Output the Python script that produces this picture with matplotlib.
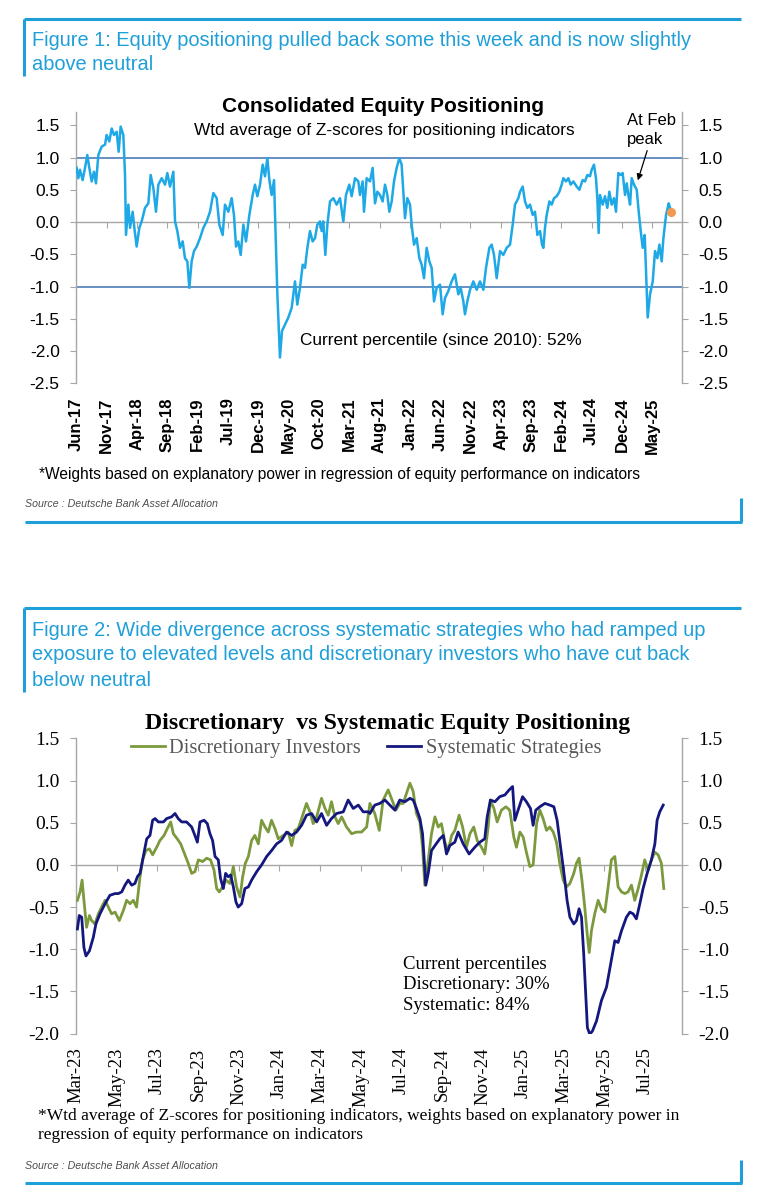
import numpy as np
import matplotlib
matplotlib.use("Agg")
import matplotlib.pyplot as plt
from matplotlib.lines import Line2D

W, H = 760, 1199

# Figure 1: consolidated positioning, x = months since Jun-17
cons_months = [0.04, 0.32, 0.59, 1.03, 1.42, 1.80, 2.13, 2.52, 2.90, 3.23, 3.62, 4.17, 4.72, 4.99, 5.43,
               5.82, 6.20, 6.64, 6.97, 7.30, 7.74, 8.02, 8.18, 8.57, 8.85, 9.28, 9.56, 9.94, 10.38,
               10.77, 11.32, 11.87, 12.25, 12.69, 13.13, 13.52, 14.07, 14.62, 15.00, 15.44, 15.99,
               16.27, 16.65, 17.09, 17.53, 17.91, 18.30, 18.63, 19.01, 19.40, 19.84, 20.39, 20.94,
               21.49, 22.04, 22.59, 23.14, 23.58,
               24.13, 24.51, 25.06, 25.61, 25.99, 26.33, 26.71, 27.10, 27.54, 27.98, 28.53, 29.08,
               29.46, 29.85, 30.29, 30.73, 31.11, 31.50, 31.83, 32.21, 32.60, 32.93, 33.15, 33.36,
               33.58, 33.91, 34.41, 34.96, 35.51, 36.06, 36.44, 36.88, 37.33, 37.71, 38.10, 38.53,
               38.97, 39.36, 39.75, 40.19, 40.46, 40.73, 41.06, 41.40, 41.84, 42.39, 42.93, 43.48,
               44.03, 44.47, 45.02, 45.41, 45.96, 46.51, 46.78, 47.22, 47.44, 47.88,
               48.43, 48.87, 49.26, 49.64, 50.08, 50.52, 50.91, 51.29, 51.62, 52.01, 52.39, 52.83,
               53.27, 53.65, 53.93, 54.20, 54.59, 55.03, 55.30, 55.69, 56.13, 56.57, 56.95, 57.34,
               57.78, 58.22, 58.60, 58.99, 59.43, 59.98, 60.42, 60.80, 61.35, 61.90, 62.45, 63.00,
               63.39, 63.83, 64.10, 64.49, 64.93, 65.48, 66.03, 66.58, 67.13, 67.57, 68.12, 68.50,
               68.89, 69.33, 69.88, 70.43, 70.98, 71.53, 71.97, 72.35, 72.90,
               73.18, 73.62, 74.00, 74.39, 74.83, 75.27, 75.65, 76.04, 76.48, 76.81, 77.03, 77.30,
               77.58, 78.02, 78.40, 78.79, 79.23, 79.67, 80.05, 80.33, 80.77, 81.15, 81.54, 81.98,
               82.53, 82.97, 83.51, 83.90, 84.28, 84.72, 85.00, 85.38, 85.71, 85.93, 86.15, 86.37,
               86.81, 87.20, 87.58, 87.91, 88.30, 88.68, 89.01, 89.40, 89.78, 90.11, 90.50, 90.78,
               91.05, 91.33, 91.60, 91.99, 92.43, 92.76, 93.09, 93.42, 93.75, 93.97, 94.24, 94.63,
               95.07, 95.45, 95.84, 96.17, 96.55, 96.83, 97.27, 97.71, 97.93]
cons_values = [0.84, 0.68, 0.81, 0.65, 0.84, 1.04, 0.84, 0.63, 0.78, 0.60, 1.04, 1.17, 1.20, 1.35, 1.25,
               1.45, 1.35, 1.40, 1.09, 1.48, 1.35, 0.73, -0.20, 0.27, -0.09, 0.16, -0.09, -0.38, -0.09,
               0.01, 0.22, 0.29, 0.73, 0.53, 0.16, 0.58, 0.68, 0.58, 0.76, 0.55, 0.78,
               0.01, -0.14, -0.40, -0.30, -0.56, -0.61, -1.02, -0.61, -0.45, -0.38, -0.25, -0.09,
               0.01, 0.16, 0.45, 0.37, -0.04,
               -0.20, 0.27, 0.16, 0.37, 0.11, -0.38, -0.30, -0.51, -0.04, -0.30, 0.11, 0.42,
               0.58, 0.40, 0.58, 0.89, 0.71, 0.99, 0.65, 0.42, 0.65, -0.40, -1.12, -1.59,
               -2.10, -1.69, -1.59, -1.48, -1.33, -0.92, -1.28, -1.02, -0.66, -0.71, -0.40, -0.14,
               -0.30, -0.25, -0.04, 0.01, -0.14, 0.01, -0.51, -0.04, 0.32, 0.37, 0.27, 0.37,
               0.01, 0.42, 0.58, 0.40, 0.68, 0.63, 0.42, 0.63, 0.16, 0.68,
               0.63, 0.84, 0.29, 0.47, 0.42, 0.32, 0.58, 0.42, 0.16, 0.32, 0.63, 0.84,
               0.99, 0.89, 0.47, 0.06, 0.37, 0.27, -0.04, -0.35, -0.25, -0.56, -0.66, -0.87,
               -0.40, -0.61, -0.71, -1.23, -1.02, -0.97, -1.43, -1.18, -1.07, -0.92, -0.81, -1.12,
               -1.02, -1.23, -1.43, -1.23, -1.05, -0.92, -1.05, -0.92, -1.05, -0.71, -0.40, -0.35,
               -0.51, -0.87, -0.45, -0.51, -0.40, -0.35, -0.04, 0.27, 0.37,
               0.47, 0.55, 0.32, 0.22, 0.27, 0.11, 0.16, -0.20, -0.14, -0.35, -0.40, -0.09,
               0.11, 0.32, 0.27, 0.37, 0.40, 0.47, 0.58, 0.68, 0.63, 0.68, 0.58, 0.63,
               0.55, 0.50, 0.65, 0.63, 0.73, 0.71, 0.81, 0.89, 0.68, 0.37, -0.17, 0.42,
               0.27, 0.40, 0.22, 0.47, 0.27, 0.37, 0.16, 0.76, 0.73, 0.76, 0.42, 0.60,
               0.42, 0.27, 0.68, 0.58, 0.50, 0.16, -0.14, -0.40, -0.20, -0.76, -1.48, -1.12,
               -0.92, -0.45, -0.56, -0.35, -0.61, -0.25, 0.11, 0.29, 0.22]
cons_latest_month = 98.04
cons_latest = 0.16
cons_tick_months = list(range(0, 96, 5))
cons_ticklabels = ["Jun-17", "Nov-17", "Apr-18", "Sep-18", "Feb-19", "Jul-19", "Dec-19", "May-20",
                   "Oct-20", "Mar-21", "Aug-21", "Jan-22", "Jun-22", "Nov-22", "Apr-23", "Sep-23",
                   "Feb-24", "Jul-24", "Dec-24", "May-25"]

# Figure 2: discretionary vs systematic, x = months since Mar-23
disc_months = [0.07, 0.20, 0.30, 0.39, 0.52, 0.66, 0.77, 0.93, 1.10, 1.26, 1.43, 1.59, 1.75, 1.92, 2.13,
               2.33, 2.49, 2.66, 2.82, 2.98, 3.15, 3.28, 3.44, 3.61, 3.77, 3.97, 4.13, 4.33, 4.49,
               4.66, 4.79, 4.98, 5.15, 5.31, 5.52, 5.69, 5.85, 6.02, 6.23, 6.43, 6.62, 6.79, 6.92,
               7.05, 7.21, 7.38, 7.57, 7.74, 7.90, 8.07, 8.20, 8.33, 8.48, 8.64, 8.80, 8.97, 9.13,
               9.30, 9.46, 9.62, 9.79, 9.95, 10.20, 10.44, 10.61, 10.77, 10.93, 11.10, 11.34, 11.51,
               11.67, 11.84, 12.08, 12.25, 12.41, 12.57, 12.74, 12.90, 13.07, 13.31, 13.56, 13.80,
               14.05, 14.30, 14.46, 14.70, 14.92, 15.11, 15.36, 15.52, 15.74, 15.93, 16.10, 16.26,
               16.43, 16.59, 16.75, 16.92, 17.05, 17.16, 17.33, 17.49, 17.66, 17.82, 17.98, 18.15,
               18.31, 18.48, 18.64, 18.85, 19.02, 19.21, 19.38, 19.57, 19.74, 19.95, 20.11, 20.28,
               20.39, 20.56, 20.72, 20.93, 21.15, 21.34, 21.54, 21.67, 21.84, 22.00, 22.16, 22.33,
               22.49, 22.66, 22.82, 22.98, 23.15, 23.31, 23.48, 23.64, 23.80, 23.97, 24.13, 24.30,
               24.49, 24.62, 24.75, 24.89, 25.03, 25.15, 25.25, 25.36, 25.52, 25.69, 25.85, 26.02,
               26.18, 26.34, 26.51, 26.67, 26.84, 27.00, 27.16, 27.33, 27.49, 27.66, 27.82, 27.98,
               28.15, 28.31, 28.48, 28.64, 28.80, 28.92]
disc_values = [-0.42, -0.32, -0.18, -0.42, -0.74, -0.60, -0.66, -0.70, -0.58, -0.50, -0.42, -0.50, -0.58,
               -0.56, -0.66, -0.54, -0.42, -0.46, -0.42, -0.50, -0.14, 0.06, 0.17, 0.19, 0.12, 0.21,
               0.29, 0.35, 0.43, 0.51, 0.37, 0.31, 0.25, 0.15, 0.02, -0.10, -0.08, 0.06, 0.04, 0.08,
               0.06, -0.06, -0.28, -0.32, -0.26, -0.18, -0.22, -0.02, -0.26, -0.38, -0.14, 0.02, 0.10,
               0.29, 0.35, 0.25, 0.53, 0.45, 0.39, 0.53, 0.43, 0.31, 0.35, 0.39, 0.23, 0.41, 0.43,
               0.55, 0.73, 0.63, 0.49, 0.57, 0.79, 0.67, 0.59, 0.75, 0.57, 0.49, 0.57, 0.45, 0.37,
               0.39, 0.39, 0.45, 0.73, 0.61, 0.41, 0.77, 0.89, 0.79, 0.65, 0.73, 0.73, 0.85, 0.97,
               0.87, 0.61, 0.51, 0.21, -0.24, 0.06, 0.37, 0.57, 0.45, 0.49, 0.27, 0.17, 0.35, 0.41,
               0.59, 0.45, 0.21, 0.37, 0.45, 0.29, 0.21, 0.13, 0.45, 0.77, 0.67, 0.51, 0.65, 0.69,
               0.65, 0.33, 0.21, 0.39, 0.33, 0.15, -0.02, 0.00, 0.49, 0.65, 0.55, 0.41, 0.45, 0.39,
               0.27, 0.02, -0.18, -0.26, -0.22, -0.10, 0.02, 0.08, -0.18, -0.50, -0.82, -1.04, -0.78,
               -0.58, -0.42, -0.52, -0.56, -0.26, 0.06, 0.10, -0.26, -0.32, -0.34, -0.32, -0.24, -0.42,
               -0.28, -0.12, 0.06, -0.06, 0.06, 0.15, 0.12, 0.02, -0.28]
syst_months = [0.07, 0.16, 0.28, 0.39, 0.49, 0.66, 0.85, 0.98, 1.18, 1.43, 1.67, 1.92, 2.08, 2.25, 2.41,
               2.57, 2.74, 2.90, 3.02, 3.15, 3.31, 3.48, 3.64, 3.77, 3.89, 4.05, 4.30, 4.46, 4.70,
               4.87, 5.03, 5.20, 5.44, 5.69, 5.85, 5.97, 6.10, 6.30, 6.46, 6.59, 6.72, 6.84, 7.00,
               7.11, 7.25, 7.36, 7.49, 7.61, 7.74, 7.87, 7.98, 8.15, 8.31, 8.48, 8.64, 8.89, 9.13,
               9.38, 9.62, 9.87, 10.11, 10.36, 10.61, 10.85, 11.10, 11.34, 11.59, 11.84, 12.08, 12.33,
               12.57, 12.82, 13.15, 13.39, 13.64, 13.89, 14.13, 14.38, 14.46, 14.70, 14.95, 15.20,
               15.44, 15.69, 15.93, 16.18, 16.43, 16.59, 16.75, 16.92, 17.05, 17.13, 17.21, 17.33,
               17.49, 17.66, 17.90, 18.07, 18.23, 18.39, 18.64, 18.80, 19.05, 19.34, 19.62, 19.87,
               20.11, 20.23, 20.39, 20.61, 20.85, 21.10, 21.31, 21.48, 21.59, 21.75, 21.97, 22.16,
               22.36, 22.49, 22.62, 22.82, 23.07, 23.31, 23.51, 23.67, 23.80, 23.93, 24.05, 24.16,
               24.30, 24.49, 24.62, 24.75, 24.87, 24.98, 25.08, 25.16, 25.28, 25.41, 25.61, 25.85,
               26.10, 26.34, 26.51, 26.67, 26.84, 27.08, 27.25, 27.41, 27.57, 27.74, 27.90, 28.10,
               28.31, 28.48, 28.59, 28.72, 28.89]
syst_values = [-0.76, -0.60, -0.62, -0.98, -1.08, -1.02, -0.86, -0.70, -0.58, -0.46, -0.36, -0.34, -0.34,
               -0.32, -0.24, -0.18, -0.24, -0.22, -0.14, -0.10, 0.10, 0.31, 0.35, 0.53, 0.55, 0.51,
               0.51, 0.55, 0.57, 0.61, 0.55, 0.51, 0.51, 0.45, 0.35, 0.27, 0.51, 0.53, 0.49, 0.37,
               0.29, 0.10, 0.06, -0.16, -0.28, -0.10, -0.14, -0.12, -0.26, -0.44, -0.50, -0.46, -0.28,
               -0.26, -0.18, -0.08, 0.00, 0.10, 0.17, 0.25, 0.29, 0.39, 0.35, 0.39, 0.47, 0.59, 0.61,
               0.51, 0.61, 0.47, 0.55, 0.61, 0.63, 0.77, 0.67, 0.71, 0.63, 0.63, 0.61, 0.71, 0.73,
               0.77, 0.71, 0.65, 0.77, 0.75, 0.79, 0.77, 0.67, 0.55, 0.37, 0.06, -0.24, -0.10, 0.17,
               0.23, 0.31, 0.35, 0.13, 0.23, 0.27, 0.39, 0.25, 0.13, 0.21, 0.27, 0.31, 0.57, 0.77,
               0.75, 0.81, 0.83, 0.89, 0.93, 0.53, 0.65, 0.81, 0.75, 0.67, 0.47, 0.65, 0.69, 0.73,
               0.71, 0.69, 0.53, 0.29, 0.04, -0.18, -0.42, -0.62, -0.70, -0.66, -0.52, -0.62, -1.06,
               -1.53, -1.93, -2.01, -1.97, -1.85, -1.61, -1.45, -1.13, -0.90, -0.92, -0.78, -0.62,
               -0.56, -0.58, -0.64, -0.46, -0.28, -0.10, 0.06, 0.25, 0.53, 0.63, 0.71]
pos_tick_months = list(range(0, 29, 2))
pos_ticklabels = ["Mar-23", "May-23", "Jul-23", "Sep-23", "Nov-23", "Jan-24", "Mar-24", "May-24",
                  "Jul-24", "Sep-24", "Nov-24", "Jan-25", "Mar-25", "May-25", "Jul-25"]

CYAN = "#1f9fd8"
SANS = ["Liberation Sans", "DejaVu Sans"]
SERIF = ["Liberation Serif", "DejaVu Serif"]
GRID_GRAY = "#a6a6a6"


def fx(x):
    return x / W


def fy(y):
    return 1 - y / H


fig = plt.figure(figsize=(W / 100, H / 100), dpi=100)


def frame_line(xs, ys):
    fig.add_artist(Line2D([fx(v) for v in xs], [fy(v) for v in ys], color=CYAN, lw=2.2,
                          solid_capstyle="butt"))


# panel borders
frame_line([24, 741], [19, 19])
frame_line([24, 24], [19, 76])
frame_line([25, 742], [522, 522])
frame_line([741, 741], [498, 522])
frame_line([24, 741], [608, 608])
frame_line([24, 24], [608, 692])
frame_line([25, 742], [1183, 1183])
frame_line([741, 741], [1160, 1183])

cap = dict(color=CYAN, fontsize=14.4, family=SANS, va="center", ha="left")
fig.text(fx(32), fy(40), "Figure 1: Equity positioning pulled back some this week and is now slightly", **cap)
fig.text(fx(32), fy(65), "above neutral", **cap)
fig.text(fx(32), fy(630), "Figure 2: Wide divergence across systematic strategies who had ramped up", **cap)
fig.text(fx(32), fy(655), "exposure to elevated levels and discretionary investors who have cut back", **cap)
fig.text(fx(32), fy(680), "below neutral", **cap)

# ---------------- chart 1 ----------------
ax1 = fig.add_axes([fx(76.4), fy(383.3), (681.7 - 76.4) / W, (383.3 - 112.4) / H])
ax1.plot(cons_months, cons_values, color="#1ea8e6", lw=1.8, zorder=3)
ax1.plot(cons_latest_month, cons_latest, "o", color="#f2994f", ms=5.5, zorder=4)
ax1.axhline(1.0, color="#4f7bb8", lw=1.2, zorder=1)
ax1.axhline(-1.0, color="#4f7bb8", lw=1.2, zorder=1)
ax1.set_xlim(0, 99.85)
ax1.set_ylim(-2.5, 1.7)

ax1.spines["top"].set_visible(False)
ax1.spines["bottom"].set_position(("data", 0))
for s in ["left", "right", "bottom"]:
    ax1.spines[s].set_color(GRID_GRAY)
    ax1.spines[s].set_linewidth(1.0)
ax1.set_yticks(np.arange(-2.5, 1.51, 0.5))
ax1.set_yticklabels([f"{v:.1f}" for v in np.arange(-2.5, 1.51, 0.5)], family=SANS)
ax1.tick_params(axis="y", left=True, right=True, labelleft=True, labelright=True,
                direction="out", length=4, color=GRID_GRAY, labelsize=12.5, pad=8)
ax1.set_xticks(cons_tick_months)
ax1.tick_params(axis="x", direction="out", length=4, color=GRID_GRAY, labelbottom=False)

sec1 = ax1.secondary_xaxis(0.0)
sec1.set_xticks(cons_tick_months)
sec1.set_xticklabels(cons_ticklabels, rotation=90, fontweight="bold", fontsize=12, family=SANS)
sec1.tick_params(length=0, pad=10)
sec1.spines["bottom"].set_visible(False)

fig.text(fx(383), fy(107), "Consolidated Equity Positioning", ha="center", va="center",
         fontsize=15, fontweight="bold", family=SANS)
fig.text(fx(384), fy(131), "Wtd average of Z-scores for positioning indicators", ha="center",
         va="center", fontsize=12.4, family=SANS)
fig.text(fx(627), fy(130), "At Feb\npeak", ha="left", va="center", fontsize=12, family=SANS,
         linespacing=1.3)
ax1.annotate("", xy=(fx(637), fy(183)), xytext=(fx(648), fy(148)), xycoords="figure fraction",
             textcoords="figure fraction",
             arrowprops=dict(arrowstyle="-|>", color="black", lw=0.9, mutation_scale=9))
fig.text(fx(300), fy(340), "Current percentile (since 2010): 52%", ha="left", va="center",
         fontsize=12.4, family=SANS)
fig.text(fx(39), fy(475),
         "*Weights based on explanatory power in regression of equity performance on indicators",
         ha="left", va="center", fontsize=11.2, family=SANS)
fig.text(fx(25), fy(504), "Source : Deutsche Bank Asset Allocation", ha="left", va="center",
         fontsize=7.7, style="italic", color="#4d4d4d", family=SANS)

# ---------------- chart 2 ----------------
ax2 = fig.add_axes([fx(76), fy(1033.5), (681.7 - 76) / W, 295 / H])
ax2.plot(disc_months, disc_values, color="#7c9a3d", lw=2.0, label="Discretionary Investors", zorder=3)
ax2.plot(syst_months, syst_values, color="#14187e", lw=2.0, label="Systematic Strategies", zorder=4)
ax2.set_xlim(0, 29.8)
ax2.set_ylim(-2.0, 1.5)

ax2.spines["top"].set_visible(False)
ax2.spines["bottom"].set_position(("data", 0))
for s in ["left", "right", "bottom"]:
    ax2.spines[s].set_color(GRID_GRAY)
    ax2.spines[s].set_linewidth(1.0)
ax2.set_yticks(np.arange(-2.0, 1.51, 0.5))
ax2.set_yticklabels([f"{v:.1f}" for v in np.arange(-2.0, 1.51, 0.5)], family=SERIF)
ax2.tick_params(axis="y", left=True, right=True, labelleft=True, labelright=True,
                direction="out", length=4, color=GRID_GRAY, labelsize=14, pad=8)
ax2.set_xticks(pos_tick_months)
ax2.tick_params(axis="x", direction="out", length=4, color=GRID_GRAY, labelbottom=False)

sec2 = ax2.secondary_xaxis(0.0)
sec2.set_xticks(pos_tick_months)
sec2.set_xticklabels(pos_ticklabels, rotation=90, fontsize=13.5, family=SERIF)
sec2.tick_params(length=0, pad=10)
sec2.spines["bottom"].set_visible(False)

ax2.legend(loc="center", bbox_to_anchor=(fx(366), fy(748)), bbox_transform=fig.transFigure,
           ncol=2, frameon=False, prop=dict(family=SERIF, size=14.8), labelcolor="#595959",
           handlelength=1.65, handletextpad=0.2, columnspacing=1.3)

fig.text(fx(388), fy(723), "Discretionary  vs Systematic Equity Positioning", ha="center",
         va="center", fontsize=17.2, fontweight="bold", family=SERIF)
fig.text(fx(403), fy(956), "Current percentiles\nDiscretionary: 30%\nSystematic: 84%", ha="left",
         va="top", fontsize=13.5, family=SERIF, linespacing=1.25)
fig.text(fx(38), fy(1116),
         "*Wtd average of Z-scores for positioning indicators, weights based on explanatory power in",
         ha="left", va="center", fontsize=12.5, family=SERIF)
fig.text(fx(38), fy(1135), "regression of equity performance on indicators", ha="left", va="center",
         fontsize=12.5, family=SERIF)
fig.text(fx(25), fy(1166), "Source : Deutsche Bank Asset Allocation", ha="left", va="center",
         fontsize=7.7, style="italic", color="#4d4d4d", family=SANS)

fig.savefig("out.png", dpi=100)
